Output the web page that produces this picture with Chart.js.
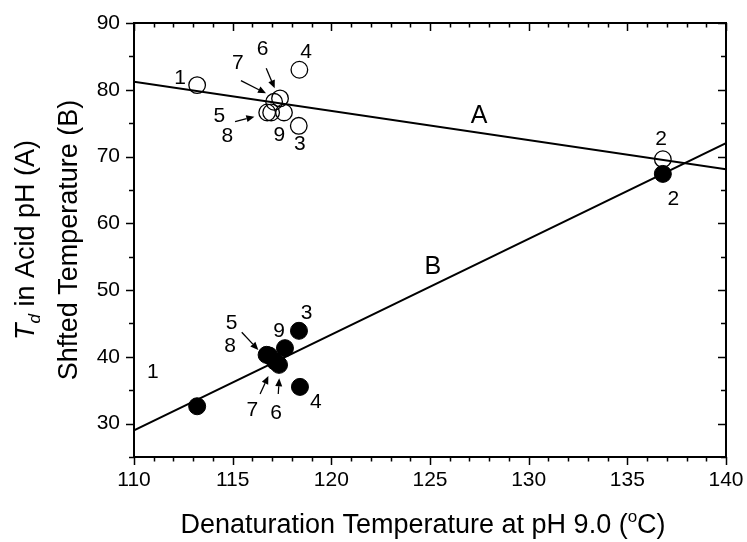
<!DOCTYPE html>
<html><head><meta charset="utf-8">
<script src="https://cdn.jsdelivr.net/npm/chart.js@4/dist/chart.umd.min.js"></script>
<style>html,body{margin:0;padding:0;background:#fff}#wrap{width:747px;height:542px;position:relative}</style>
</head><body>
<div id="wrap"><canvas id="c" width="747" height="542"></canvas></div>
<script>
// ---- data ----
const pointIds   = ['1','2','3','4','5','6','7','8','9'];
const tempPH9A   = [113.2, 136.8, 118.35, 118.38, 116.75, 117.4, 117.1, 116.95, 117.6];
const acidTd     = [80.7, 69.6, 74.6, 83.0, 76.6, 78.7, 78.2, 76.6, 76.6];
const tempPH9B   = [113.2, 136.8, 118.36, 118.41, 116.72, 117.35, 117.15, 116.85, 117.65];
const shiftedT   = [32.6, 67.4, 43.9, 35.5, 40.3, 38.8, 39.3, 40.2, 41.3];
const fitX       = [110, 140];
const fitA       = [81.2, 68.1];
const fitB       = [29.0, 72.0];
const xTickVals  = [110, 115, 120, 125, 130, 135, 140];
const yTickVals  = [30, 40, 50, 60, 70, 80, 90];
const lineNames  = ['A', 'B'];

// annotation anchors (data units)
const openLabelPos = [[112.33,81.7],[136.71,72.6],[118.41,71.9],[118.72,85.7],[114.32,75.97],[116.52,86.06],[115.26,83.97],[114.73,72.98],[117.36,73.2]];
const fillLabelPos = [[110.96,37.75],[137.33,63.6],[118.75,46.6],[119.22,33.2],[114.95,45.0],[117.2,31.57],[116.0,31.96],[114.87,41.65],[117.35,43.8]];
const arrowSegs = [
  [115.42,81.36,116.69,79.47],[116.70,83.22,117.13,80.22],[115.12,75.22,116.10,75.97],
  [115.46,43.68,116.30,41.03],[116.39,34.44,116.81,37.13],[117.31,34.44,117.36,36.79]
];
const lineLabelPos = [[127.49,76.08],[125.14,53.37]];

const FONT = '"Liberation Sans", Arial, Helvetica, sans-serif';

const toPts = (xs, ys) => xs.map((x,i)=>({x:x, y:ys[i]}));

const decor = {
  id:'decor',
  afterDraw(chart){
    const {ctx, chartArea:a, scales:{x, y}} = chart;
    ctx.save();
    ctx.strokeStyle = '#000'; ctx.fillStyle = '#000';
    ctx.lineWidth = 2;
    ctx.strokeRect(a.left, a.top, a.right-a.left, a.bottom-a.top);
    ctx.lineWidth = 1.5;
    ctx.beginPath();
    // x ticks
    for (let v = x.min; v <= x.max + 1e-9; v += 1) {
      const px = Math.round(x.getPixelForValue(v)) + 0.5;
      const major = xTickVals.includes(v);
      const L = major ? 8 : 4.5;
      ctx.moveTo(px, a.bottom); ctx.lineTo(px, a.bottom + L);
      ctx.moveTo(px, a.top); ctx.lineTo(px, a.top + L);
    }
    // y ticks
    for (let v = 25; v <= y.max + 1e-9; v += 5) {
      const py = Math.round(y.getPixelForValue(v)) + 0.5;
      const major = yTickVals.includes(v);
      const L = major ? 8 : 5;
      ctx.moveTo(a.left, py); ctx.lineTo(a.left - L, py);
      ctx.moveTo(a.right, py); ctx.lineTo(a.right - L, py);
    }
    ctx.stroke();

    // arrows
    ctx.lineWidth = 1.3;
    arrowSegs.forEach(s => {
      const x1 = x.getPixelForValue(s[0]), y1 = y.getPixelForValue(s[1]);
      const x2 = x.getPixelForValue(s[2]), y2 = y.getPixelForValue(s[3]);
      const ang = Math.atan2(y2-y1, x2-x1);
      const hl = 8, hw = 3.5;
      const bx = x2 - hl*Math.cos(ang), by = y2 - hl*Math.sin(ang);
      ctx.beginPath(); ctx.moveTo(x1,y1); ctx.lineTo(bx,by); ctx.stroke();
      ctx.beginPath();
      ctx.moveTo(x2,y2);
      ctx.lineTo(bx + hw*Math.sin(ang), by - hw*Math.cos(ang));
      ctx.lineTo(bx - hw*Math.sin(ang), by + hw*Math.cos(ang));
      ctx.closePath(); ctx.fill();
    });

    // point labels
    ctx.textAlign = 'center'; ctx.textBaseline = 'middle';
    ctx.font = '21px ' + FONT;
    pointIds.forEach((t,i) => {
      ctx.fillText(t, x.getPixelForValue(openLabelPos[i][0]), y.getPixelForValue(openLabelPos[i][1]));
      ctx.fillText(t, x.getPixelForValue(fillLabelPos[i][0]), y.getPixelForValue(fillLabelPos[i][1]));
    });
    ctx.font = '25px ' + FONT;
    lineNames.forEach((t,i) => {
      ctx.fillText(t, x.getPixelForValue(lineLabelPos[i][0]), y.getPixelForValue(lineLabelPos[i][1]));
    });

    // x title with superscript
    ctx.textBaseline = 'alphabetic'; ctx.textAlign = 'left';
    const big = '27px ' + FONT, sup = '17px ' + FONT;
    const p1 = 'Denaturation Temperature at pH 9.0 (', p2 = 'o', p3 = 'C)';
    ctx.font = big; const w1 = ctx.measureText(p1).width, w3 = ctx.measureText(p3).width;
    ctx.font = sup; const w2 = ctx.measureText(p2).width;
    const cx = (a.left + a.right)/2 - 7;
    let sx = cx - (w1+w2+w3)/2;
    const base = 533;
    ctx.font = big; ctx.fillText(p1, sx, base); sx += w1;
    ctx.font = sup; ctx.fillText(p2, sx, base - 11); sx += w2;
    ctx.font = big; ctx.fillText(p3, sx, base);

    // y title (two lines, rotated)
    ctx.save();
    const cy = (a.top + a.bottom)/2;
    ctx.translate(34, cy); ctx.rotate(-Math.PI/2);
    const q1 = 'T', q2 = 'd', q3 = ' in Acid pH (A)';
    const ital = 'italic 27px ' + FONT, sub = 'italic 17px ' + FONT;
    ctx.font = ital; const v1 = ctx.measureText(q1).width;
    ctx.font = sub; const v2 = ctx.measureText(q2).width;
    ctx.font = big; const v3 = ctx.measureText(q3).width;
    let tx = -(v1+v2+v3)/2;
    ctx.font = ital; ctx.fillText(q1, tx, 0); tx += v1;
    ctx.font = sub; ctx.fillText(q2, tx, 6); tx += v2;
    ctx.font = big; ctx.fillText(q3, tx, 0);
    ctx.restore();
    ctx.save();
    ctx.translate(77, cy); ctx.rotate(-Math.PI/2);
    ctx.font = big; ctx.textAlign = 'center';
    ctx.fillText('Shfted Temperature (B)', 0, 0);
    ctx.restore();

    ctx.restore();
  }
};

new Chart(document.getElementById('c'), {
  type: 'scatter',
  data: {
    datasets: [
      { label: 'A fit', data: toPts(fitX, fitA), showLine: true, pointRadius: 0, borderColor: '#000', borderWidth: 2, fill: false },
      { label: 'B fit', data: toPts(fitX, fitB), showLine: true, pointRadius: 0, borderColor: '#000', borderWidth: 2, fill: false },
      { label: 'Td acid pH', data: toPts(tempPH9A, acidTd), pointRadius: 8.3, pointBorderWidth: 1.3, pointBackgroundColor: 'rgba(0,0,0,0)', pointBorderColor: '#000', showLine: false },
      { label: 'Shifted T', data: toPts(tempPH9B, shiftedT), pointRadius: 8.5, pointBorderWidth: 1, pointBackgroundColor: '#000', pointBorderColor: '#000', showLine: false }
    ]
  },
  options: {
    responsive: false,
    animation: false,
    layout: { padding: { left: 0, right: 21, top: 23, bottom: 0 } },
    plugins: { legend: { display: false }, tooltip: { enabled: false } },
    scales: {
      x: {
        type: 'linear', min: 110, max: 140,
        afterBuildTicks: s => { s.ticks = xTickVals.map(v => ({ value: v })); },
        afterFit: s => { s.height = 85; s.paddingLeft = 0; s.paddingRight = 0; },
        grid: { display: false, drawTicks: false },
        border: { display: false },
        ticks: { color: '#000', padding: 11, font: { size: 21, family: FONT }, maxRotation: 0 }
      },
      y: {
        type: 'linear', min: 25, max: 90,
        afterBuildTicks: s => { s.ticks = yTickVals.map(v => ({ value: v })); },
        afterFit: s => { s.width = 134; s.paddingTop = 0; s.paddingBottom = 0; },
        grid: { display: false, drawTicks: false },
        border: { display: false },
        ticks: { color: '#000', padding: 14, font: { size: 21, family: FONT } }
      }
    }
  },
  plugins: [decor]
});
</script>
</body></html>
